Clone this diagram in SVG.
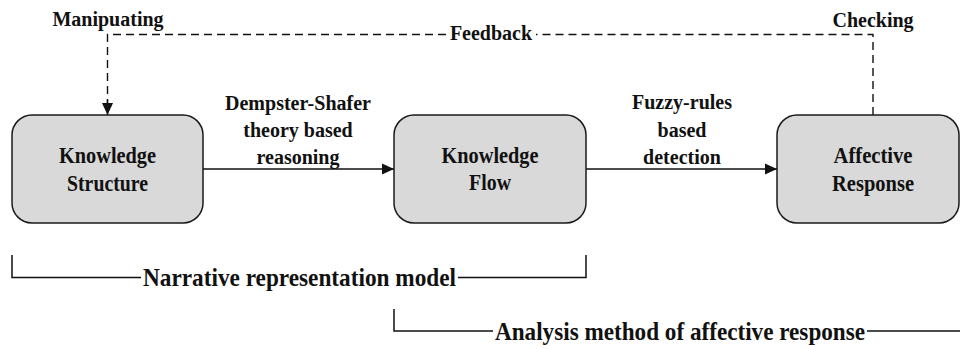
<svg xmlns="http://www.w3.org/2000/svg" width="960" height="349" viewBox="0 0 960 349" font-family="'Liberation Serif', 'Times New Roman', Times, serif">
<defs>
<style>
.box{fill:#d9d9d9;stroke:#1a1a1a;stroke-width:1.5}
.t{font-family:'Liberation Serif','Times New Roman',Times,serif;font-weight:bold;fill:#111}
.lbl{font-size:20px;text-anchor:middle}
.nl{font-size:23.5px;text-anchor:middle}
.big{font-size:26px}
.ln{fill:none;stroke:#111;stroke-width:1.5}
.dash{fill:none;stroke:#111;stroke-width:1.4;stroke-dasharray:8 5}
</style>
<marker id="ah" viewBox="0 0 12 12" refX="12" refY="6" markerWidth="12" markerHeight="12" markerUnits="userSpaceOnUse" orient="auto">
<path d="M0,0.5 L12,6 L0,11.5 Z" fill="#111"/>
</marker>
</defs>
<rect width="960" height="349" fill="#fff"/>
<g id="connectors">
<line class="ln" x1="203" y1="169" x2="394" y2="169" marker-end="url(#ah)"/>
<line class="ln" x1="586" y1="169" x2="777" y2="169" marker-end="url(#ah)"/>
<path class="dash" d="M873,115 V34.5 H536"/>
<path class="dash" d="M446,34.5 H107.5 V103"/>
<line x1="107.5" y1="100" x2="107.5" y2="115" stroke="#111" stroke-width="1.4" marker-end="url(#ah)"/>
<text class="t lbl" x="298" y="110">Dempster-Shafer</text>
<text class="t lbl" x="298" y="137">theory based</text>
<text class="t lbl" x="298" y="164">reasoning</text>
<text class="t lbl" x="682" y="109">Fuzzy-rules</text>
<text class="t lbl" x="682" y="137">based</text>
<text class="t lbl" x="682" y="164">detection</text>
<text class="t lbl" x="491" y="40">Feedback</text>
<text class="t lbl" x="108" y="26">Manipuating</text>
<text class="t lbl" x="873" y="27">Checking</text>
</g>
<g id="knowledge-structure">
<rect class="box" x="12" y="115" width="191" height="108" rx="20" ry="20"/>
<text class="t nl" x="107.5" y="163" textLength="97" lengthAdjust="spacingAndGlyphs">Knowledge</text>
<text class="t nl" x="107.5" y="191" textLength="81" lengthAdjust="spacingAndGlyphs">Structure</text>
</g>
<g id="knowledge-flow">
<rect class="box" x="394" y="115" width="192" height="108" rx="20" ry="20"/>
<text class="t nl" x="490" y="163" textLength="97" lengthAdjust="spacingAndGlyphs">Knowledge</text>
<text class="t nl" x="490" y="190" textLength="42" lengthAdjust="spacingAndGlyphs">Flow</text>
</g>
<g id="affective-response">
<rect class="box" x="777" y="115" width="182" height="108" rx="20" ry="20"/>
<text class="t nl" x="873" y="163" textLength="79" lengthAdjust="spacingAndGlyphs">Affective</text>
<text class="t nl" x="873" y="191" textLength="82" lengthAdjust="spacingAndGlyphs">Response</text>
</g>
<g id="narrative-model">
<path class="ln" d="M12,255 V277.5 H141"/>
<path class="ln" d="M458,277.5 H586 V255"/>
<text class="t big" x="143" y="286" textLength="313" lengthAdjust="spacingAndGlyphs">Narrative representation model</text>
</g>
<g id="analysis-method">
<path class="ln" d="M394,309 V331 H493"/>
<path class="ln" d="M867,331 H960"/>
<text class="t big" x="495" y="340" textLength="370" lengthAdjust="spacingAndGlyphs">Analysis method of affective response</text>
</g>
</svg>
